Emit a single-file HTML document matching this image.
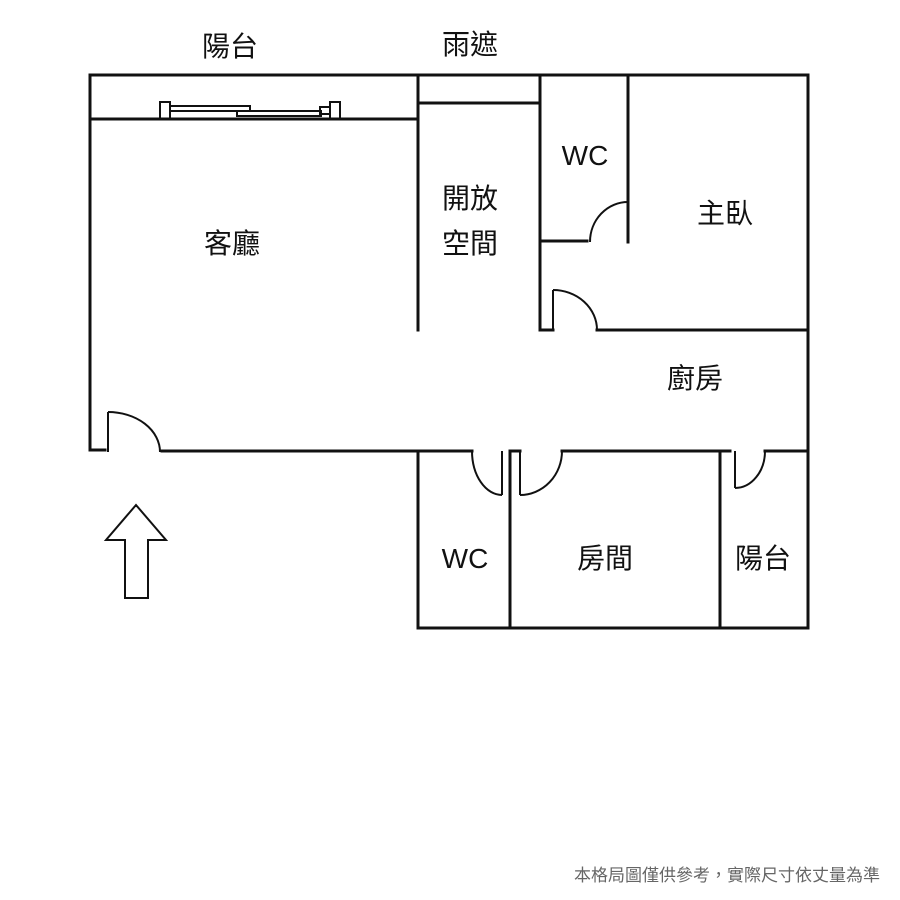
<!DOCTYPE html>
<html><head><meta charset="utf-8"><style>
html,body{margin:0;padding:0;background:#fff;}
svg{display:block;}
text{font-family:"Liberation Sans","Noto Sans CJK TC",sans-serif;fill:#111;}
</style></head><body>
<svg width="900" height="900" viewBox="0 0 900 900" xmlns="http://www.w3.org/2000/svg">
<rect width="900" height="900" fill="#fff"/>
<g stroke="#111" stroke-width="3" fill="none" stroke-linecap="square">
<!-- outer top -->
<line x1="90" y1="75" x2="808" y2="75"/>
<line x1="90" y1="75" x2="90" y2="450"/>
<line x1="808" y1="75" x2="808" y2="628"/>
<line x1="90" y1="119" x2="418" y2="119"/>
<line x1="418" y1="75" x2="418" y2="330"/>
<line x1="418" y1="103" x2="540" y2="103"/>
<line x1="540" y1="75" x2="540" y2="330"/>
<line x1="628" y1="75" x2="628" y2="242"/>
<line x1="540" y1="241" x2="587" y2="241"/>
<line x1="540" y1="330" x2="553" y2="330"/>
<line x1="597" y1="330" x2="808" y2="330"/>
<!-- bottom wall -->
<line x1="90" y1="450" x2="105" y2="450"/>
<line x1="162" y1="451" x2="472" y2="451"/>
<line x1="510" y1="451" x2="520" y2="451"/>
<line x1="562" y1="451" x2="730" y2="451"/>
<line x1="765" y1="451" x2="808" y2="451"/>
<line x1="418" y1="451" x2="418" y2="628"/>
<line x1="510" y1="451" x2="510" y2="628"/>
<line x1="720" y1="451" x2="720" y2="628"/>
<line x1="418" y1="628" x2="808" y2="628"/>
</g>
<g stroke="#111" stroke-width="2" fill="none">
<!-- window -->
<rect x="160" y="102" width="10" height="17"/>
<rect x="170" y="106" width="80" height="5"/>
<rect x="237" y="111" width="84" height="5"/>
<rect x="320" y="107" width="10" height="7"/>
<rect x="330" y="102" width="10" height="17"/>
<!-- entry door -->
<line x1="108" y1="452" x2="108" y2="412"/>
<path d="M108 412 A52 40 0 0 1 160 452"/>
<!-- WC top door -->
<line x1="628" y1="242" x2="628" y2="202"/>
<path d="M628 202 A38 40 0 0 0 590 242"/>
<!-- kitchen door -->
<line x1="553" y1="330" x2="553" y2="290"/>
<path d="M553 290 A44 40 0 0 1 597 330"/>
<!-- WC bottom door -->
<line x1="502" y1="451" x2="502" y2="495"/>
<path d="M472 451 A30 44 0 0 0 502 495"/>
<!-- room door -->
<line x1="520" y1="451" x2="520" y2="495"/>
<path d="M520 495 A42 44 0 0 0 562 451"/>
<!-- balcony door -->
<line x1="735" y1="451" x2="735" y2="488"/>
<path d="M735 488 A30 37 0 0 0 765 451"/>
<!-- arrow -->
<polygon points="136,505 166,540 148,540 148,598 125,598 125,540 106,540"/>
</g>
<g font-size="28" text-anchor="middle">
<text x="230" y="56">陽台</text>
<text x="470" y="54">雨遮</text>
<text x="585" y="165">WC</text>
<text x="470" y="208">開放</text>
<text x="470" y="253">空間</text>
<text x="725" y="223">主臥</text>
<text x="232" y="253">客廳</text>
<text x="695" y="388">廚房</text>
<text x="465" y="568">WC</text>
<text x="605" y="568">房間</text>
<text x="763" y="568">陽台</text>
</g>
<text x="880" y="881" font-size="17" text-anchor="end" style="fill:#666">本格局圖僅供參考，實際尺寸依丈量為準</text>
</svg>
</body></html>
